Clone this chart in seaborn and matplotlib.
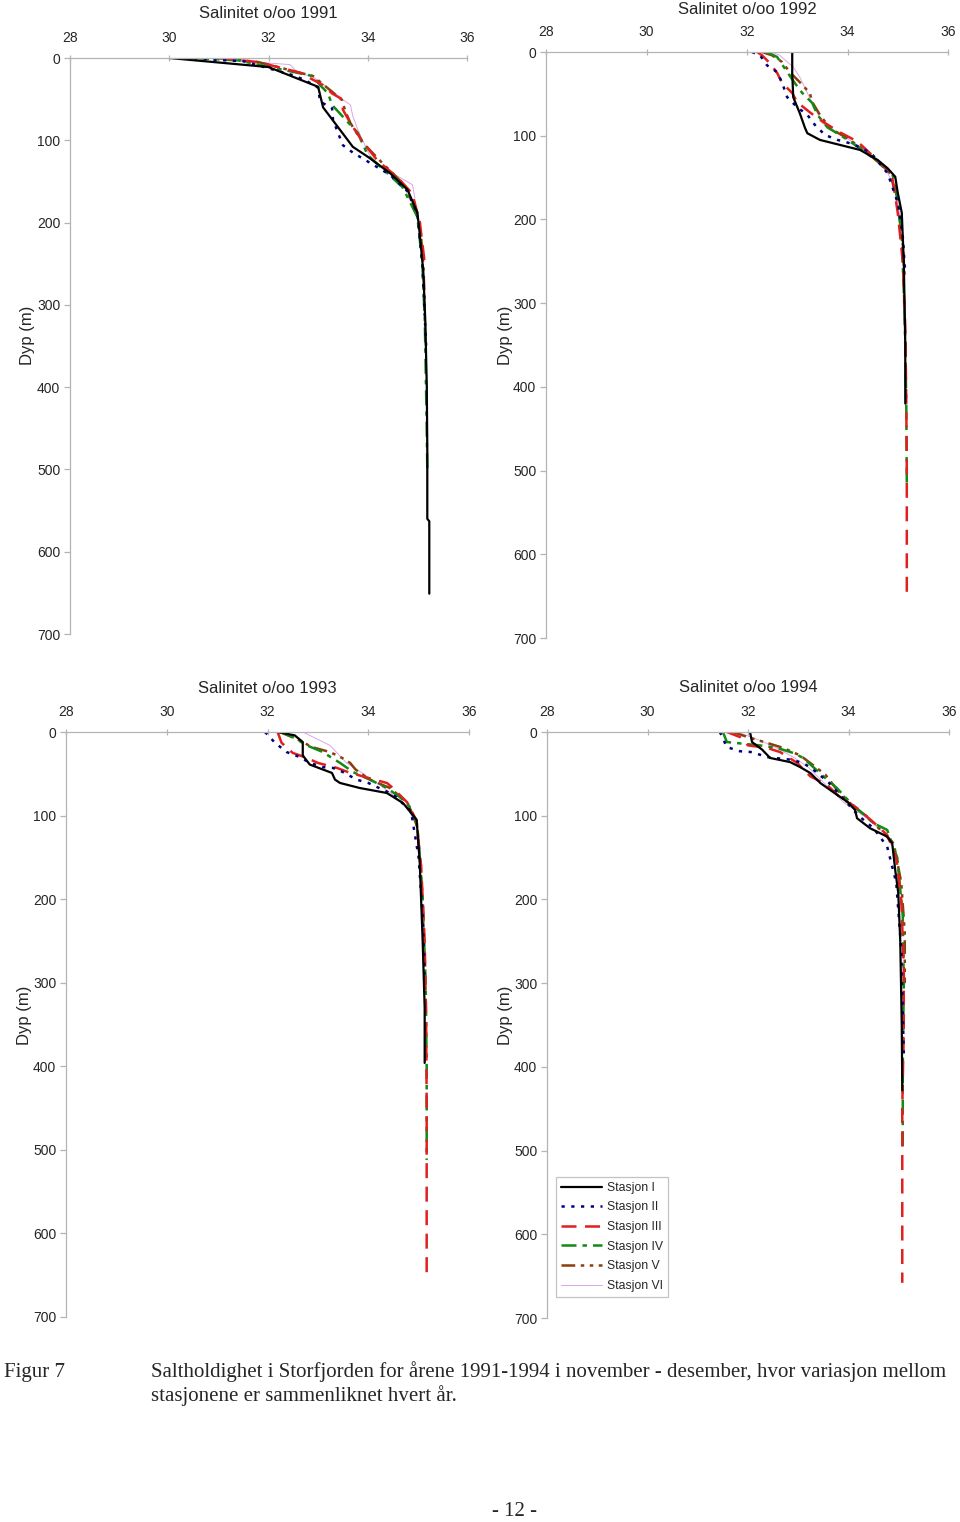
import matplotlib
matplotlib.use("Agg")
import matplotlib.pyplot as plt
from matplotlib.lines import Line2D
import seaborn as sns
import pandas as pd

# ---------------- data (salinity o/oo, depth m) ----------------
stations = ["Stasjon I", "Stasjon II", "Stasjon III", "Stasjon IV", "Stasjon V", "Stasjon VI"]
years = ["1991", "1992", "1993", "1994"]
xticks = [28, 30, 32, 34, 36]
yticks = [0, 100, 200, 300, 400, 500, 600, 700]

# 1991
s91_I = [30.0, 32.0, 33.0, 33.1, 33.4, 33.7, 34.0, 34.45, 34.8, 35.0, 35.05, 35.12, 35.16, 35.19, 35.2, 35.2, 35.24, 35.24]
d91_I = [0, 11, 35, 60, 84, 108, 120, 140, 160, 188, 215, 260, 320, 400, 480, 560, 563, 651]
s91_II = [30.3, 31.5, 32.5, 32.74, 33.0, 33.04, 33.28, 33.3, 33.4, 33.5, 33.7, 33.95, 34.45, 34.8, 35.0, 35.1, 35.18]
d91_II = [0, 4, 21, 27, 36, 53, 61, 75, 91, 106, 115, 124, 142, 162, 190, 250, 355]
s91_III = [31.0, 31.8, 32.64, 33.1, 33.28, 33.48, 33.5, 33.65, 33.9, 34.2, 34.6, 34.9, 35.05, 35.15]
d91_III = [0, 5, 18, 33, 43, 50, 63, 79, 102, 125, 145, 165, 200, 250]
s91_IV = [30.5, 31.4, 32.03, 32.9, 33.04, 33.2, 33.28, 33.6, 33.8, 34.0, 34.7, 35.0, 35.1, 35.15, 35.18, 35.2]
d91_IV = [0, 3, 11, 22, 33, 43, 57, 78, 91, 118, 157, 193, 250, 320, 420, 500]
s91_V = [31.0, 31.8, 32.64, 32.9, 33.24, 33.48, 33.55, 33.65, 33.9, 34.3, 34.75, 35.05, 35.12, 35.15]
d91_V = [0, 5, 18, 22, 39, 51, 65, 79, 103, 128, 155, 200, 250, 300]
s91_VI = [30.8, 31.5, 32.43, 32.6, 32.9, 33.3, 33.48, 33.65, 33.7, 33.8, 34.05, 34.25, 34.5, 34.9, 34.95]
d91_VI = [0, 4, 8, 18, 23, 41, 50, 57, 71, 87, 120, 132, 140, 154, 170]

# 1992
s92_I = [32.9, 32.9, 32.92, 33.05, 33.15, 33.2, 33.45, 33.85, 34.25, 34.6, 34.8, 34.95, 35.0, 35.08, 35.12, 35.15, 35.15]
d92_I = [0, 25, 54, 73, 90, 97, 105, 111, 117, 129, 139, 149, 168, 192, 250, 350, 420]
s92_II = [32.1, 32.26, 32.4, 32.6, 32.7, 32.8, 33.0, 33.2, 33.35, 33.55, 33.8, 34.05, 34.3, 34.5, 34.8, 35.0, 35.1, 35.15]
d92_II = [0, 4, 16, 24, 37, 54, 66, 75, 87, 99, 105, 109, 115, 123, 145, 180, 220, 265]
s92_III = [32.2, 32.3, 32.45, 32.6, 32.7, 32.9, 33.0, 33.25, 33.45, 33.85, 34.2, 34.45, 34.8, 34.9, 35.0, 35.1, 35.15, 35.17, 35.18, 35.18]
d92_III = [0, 4, 13, 25, 37, 49, 60, 72, 81, 96, 107, 121, 141, 153, 192, 250, 330, 420, 500, 650]
s92_IV = [32.4, 32.6, 32.8, 32.95, 33.1, 33.3, 33.4, 33.6, 33.9, 34.25, 34.6, 34.9, 34.98, 35.08, 35.14, 35.17, 35.18]
d92_IV = [0, 6, 24, 37, 49, 61, 75, 90, 101, 115, 131, 147, 173, 220, 320, 420, 515]
s92_V = [32.3, 32.5, 32.7, 32.85, 33.05, 33.25, 33.3, 33.45, 33.65, 34.05, 34.45, 34.85, 35.0, 35.1, 35.14]
d92_V = [0, 4, 12, 24, 36, 49, 60, 75, 91, 105, 123, 145, 180, 230, 270]
s92_VI = [32.5, 32.65, 32.92, 33.05, 33.25, 33.5, 33.9, 34.3, 34.7, 34.95, 35.05]
d92_VI = [0, 4, 18, 30, 55, 85, 100, 115, 135, 160, 200]

# 1993
s93_I = [32.2, 32.54, 32.7, 32.7, 32.84, 33.28, 33.34, 33.44, 33.83, 34.37, 34.69, 34.96, 35.02, 35.08, 35.12, 35.12]
d93_I = [0, 4, 12, 28, 39, 49, 57, 61, 67, 73, 85, 105, 153, 250, 330, 396]
s93_II = [31.95, 32.15, 32.38, 32.64, 32.84, 33.1, 33.3, 33.5, 33.77, 34.0, 34.5, 34.85, 35.0, 35.08, 35.12]
d93_II = [0, 13, 24, 30, 37, 42, 43, 48, 57, 61, 75, 95, 150, 220, 290]
s93_III = [32.2, 32.28, 32.5, 32.78, 33.0, 33.38, 33.6, 34.0, 34.37, 34.47, 34.77, 34.95, 35.05, 35.12, 35.15, 35.16, 35.16]
d93_III = [0, 13, 25, 31, 37, 43, 48, 55, 61, 66, 84, 105, 160, 250, 350, 450, 655]
s93_IV = [32.25, 32.5, 32.78, 33.1, 33.2, 33.44, 33.7, 34.03, 34.37, 34.63, 34.83, 34.98, 35.08, 35.14, 35.16, 35.16]
d93_IV = [0, 6, 16, 24, 28, 37, 48, 57, 67, 78, 90, 115, 200, 300, 400, 512]
s93_V = [32.25, 32.64, 32.88, 33.24, 33.48, 33.64, 33.75, 34.03, 34.43, 34.77, 34.97, 35.08, 35.12]
d93_V = [0, 10, 18, 24, 31, 37, 45, 57, 67, 84, 110, 200, 300]
s93_VI = [32.7, 33.24, 33.57, 33.9, 34.2, 34.49, 34.77, 34.9]
d93_VI = [0, 16, 37, 50, 62, 75, 90, 105]

# 1994
s94_I = [32.04, 32.08, 32.28, 32.44, 32.84, 33.04, 33.24, 33.44, 33.7, 33.99, 34.13, 34.17, 34.43, 34.77, 34.87, 34.93, 34.99, 35.03, 35.06, 35.07]
d94_I = [0, 12, 21, 31, 36, 42, 49, 61, 72, 84, 93, 103, 115, 125, 133, 165, 192, 250, 350, 428]
s94_II = [31.44, 31.58, 31.84, 32.08, 32.38, 32.84, 33.1, 33.3, 33.6, 33.9, 34.2, 34.5, 34.77, 34.95, 35.05, 35.1]
d94_II = [0, 18, 23, 24, 30, 33, 37, 45, 60, 80, 100, 115, 137, 180, 260, 384]
s94_III = [31.58, 31.84, 32.0, 32.38, 32.64, 32.98, 33.24, 33.57, 33.83, 34.17, 34.5, 34.77, 34.95, 35.05, 35.1, 35.1, 35.07, 35.07]
d94_III = [0, 6, 16, 19, 24, 37, 53, 63, 78, 91, 108, 123, 150, 200, 280, 350, 450, 658]
s94_IV = [31.5, 31.58, 31.9, 32.24, 32.58, 32.9, 33.1, 33.5, 33.77, 34.03, 34.5, 34.77, 34.97, 35.08, 35.1, 35.08, 35.08]
d94_IV = [0, 12, 14, 16, 19, 25, 31, 53, 67, 84, 109, 117, 150, 220, 300, 400, 500]
s94_V = [31.7, 32.04, 32.38, 32.7, 33.04, 33.37, 33.54, 33.77, 34.1, 34.37, 34.9, 35.05, 35.12, 35.12]
d94_V = [0, 7, 13, 19, 28, 43, 51, 69, 89, 101, 133, 180, 240, 300]
s94_VI = [31.78, 32.24, 32.6, 32.9, 33.2, 33.5, 33.9, 34.3, 34.7, 34.9]
d94_VI = [0, 10, 20, 30, 42, 60, 84, 100, 120, 140]

profiles = {
    "1991": [(s91_I, d91_I), (s91_II, d91_II), (s91_III, d91_III), (s91_IV, d91_IV), (s91_V, d91_V), (s91_VI, d91_VI)],
    "1992": [(s92_I, d92_I), (s92_II, d92_II), (s92_III, d92_III), (s92_IV, d92_IV), (s92_V, d92_V), (s92_VI, d92_VI)],
    "1993": [(s93_I, d93_I), (s93_II, d93_II), (s93_III, d93_III), (s93_IV, d93_IV), (s93_V, d93_V), (s93_VI, d93_VI)],
    "1994": [(s94_I, d94_I), (s94_II, d94_II), (s94_III, d94_III), (s94_IV, d94_IV), (s94_V, d94_V), (s94_VI, d94_VI)],
}

# ---------------- styles ----------------
palette = {"Stasjon I": "#000000", "Stasjon II": "#000080", "Stasjon III": "#e0201e",
           "Stasjon IV": "#138a13", "Stasjon V": "#8b3d0c", "Stasjon VI": "#d8a8e8"}
dashes = {"Stasjon I": "", "Stasjon II": (1.3, 2.6), "Stasjon III": (6.0, 3.4),
          "Stasjon IV": (6.0, 2.4, 1.8, 2.4), "Stasjon V": (5.5, 2.2, 1.4, 2.2, 1.4, 2.2),
          "Stasjon VI": ""}
sizes = {"Stasjon I": 1.6, "Stasjon II": 1.8, "Stasjon III": 1.8, "Stasjon IV": 1.8,
         "Stasjon V": 1.8, "Stasjon VI": 0.7}
draw_order = ["Stasjon VI", "Stasjon V", "Stasjon IV", "Stasjon III", "Stasjon II", "Stasjon I"]

sns.set_style("white")
plt.rcParams["font.family"] = ["Liberation Sans", "DejaVu Sans"]

W, H = 960, 1522
fig = plt.figure(figsize=(W / 100, H / 100), dpi=100)

# axes boxes in pixels: left, right, top, bottom ; title center y ; ylabel right-edge x, center y
boxes = {
    "1991": (70, 467, 58, 634, 14, 35, 335),
    "1992": (546, 948, 52, 638, 10, 513, 335),
    "1993": (66, 469, 732, 1317, 688, 32, 1015),
    "1994": (547, 949, 732, 1318, 688, 513, 1015),
}
axgray = "#b4b4b4"

for yr in years:
    l, r, t, b, ty, lx, ly = boxes[yr]
    ax = fig.add_axes([l / W, 1 - b / H, (r - l) / W, (b - t) / H])
    rows = []
    for st, (s, d) in zip(stations, profiles[yr]):
        for i, (sv, dv) in enumerate(zip(s, d)):
            rows.append({"st": st, "sal": sv, "dep": dv, "i": i})
    df = pd.DataFrame(rows)
    for st in draw_order:
        sub = df[df["st"] == st]
        sns.lineplot(data=sub, x="sal", y="dep", color=palette[st], sort=False,
                     estimator=None, linewidth=sizes[st], ax=ax, legend=False)
        line = ax.get_lines()[-1]
        if dashes[st]:
            line.set_dashes(dashes[st])
    ax.set_xlim(28, 36)
    ax.set_ylim(700, 0)
    ax.xaxis.tick_top()
    ax.set_xticks(xticks)
    ax.set_yticks(yticks)
    ax.set_xticklabels([str(v) for v in xticks])
    ax.set_yticklabels([str(v) for v in yticks])
    for sp in ["right", "bottom"]:
        ax.spines[sp].set_visible(False)
    for sp in ["top", "left"]:
        ax.spines[sp].set_visible(True)
        ax.spines[sp].set_color(axgray)
        ax.spines[sp].set_linewidth(0.9)
    ax.tick_params(axis="x", which="major", direction="inout", length=5, width=0.9,
                   color=axgray, labelsize=10, pad=7, top=True, bottom=False, labeltop=True, labelbottom=False)
    ax.tick_params(axis="y", which="major", direction="out", length=4, width=0.9,
                   color=axgray, labelsize=10, pad=3, left=True)
    ax.set_xlabel("")
    ax.set_ylabel("Dyp (m)", fontsize=12)
    ax.yaxis.set_label_coords((lx - l) / (r - l), 1 - (ly - t) / (b - t))
    ax.text(0.5, 1 + (t - ty) / (b - t), "Salinitet o/oo " + yr, transform=ax.transAxes,
            ha="center", va="center", fontsize=12)
    ax.grid(False)
    ax.set_facecolor("white")

# legend in the 1994 panel
handles = []
for st in stations:
    h = Line2D([0], [0], color=palette[st], linewidth=sizes[st])
    if dashes[st]:
        h.set_dashes(dashes[st])
    handles.append(h)
leg = fig.legend(handles, stations, loc="upper left", bbox_to_anchor=(556 / W, 1 - 1177 / H),
                 fontsize=8.8, frameon=True, fancybox=False, handlelength=3.4, handletextpad=0.35,
                 labelspacing=0.62, borderpad=0.4, borderaxespad=0)
leg.get_frame().set_edgecolor(axgray)
leg.get_frame().set_linewidth(0.9)

serif = ["Liberation Serif", "DejaVu Serif"]
fig.text(4 / W, 1 - 1372 / H, "Figur 7", family=serif, fontsize=15, va="center", ha="left")
fig.text(151 / W, 1 - 1372 / H,
         "Saltholdighet i Storfjorden for årene 1991-1994 i november - desember, hvor variasjon mellom",
         family=serif, fontsize=15, va="center", ha="left")
fig.text(151 / W, 1 - 1396 / H, "stasjonene er sammenliknet hvert år.",
         family=serif, fontsize=15, va="center", ha="left")
fig.text(515 / W, 1 - 1512 / H, "- 12 -", family=serif, fontsize=15, va="center", ha="center")

fig.savefig("out.png", dpi=100, facecolor="white")
